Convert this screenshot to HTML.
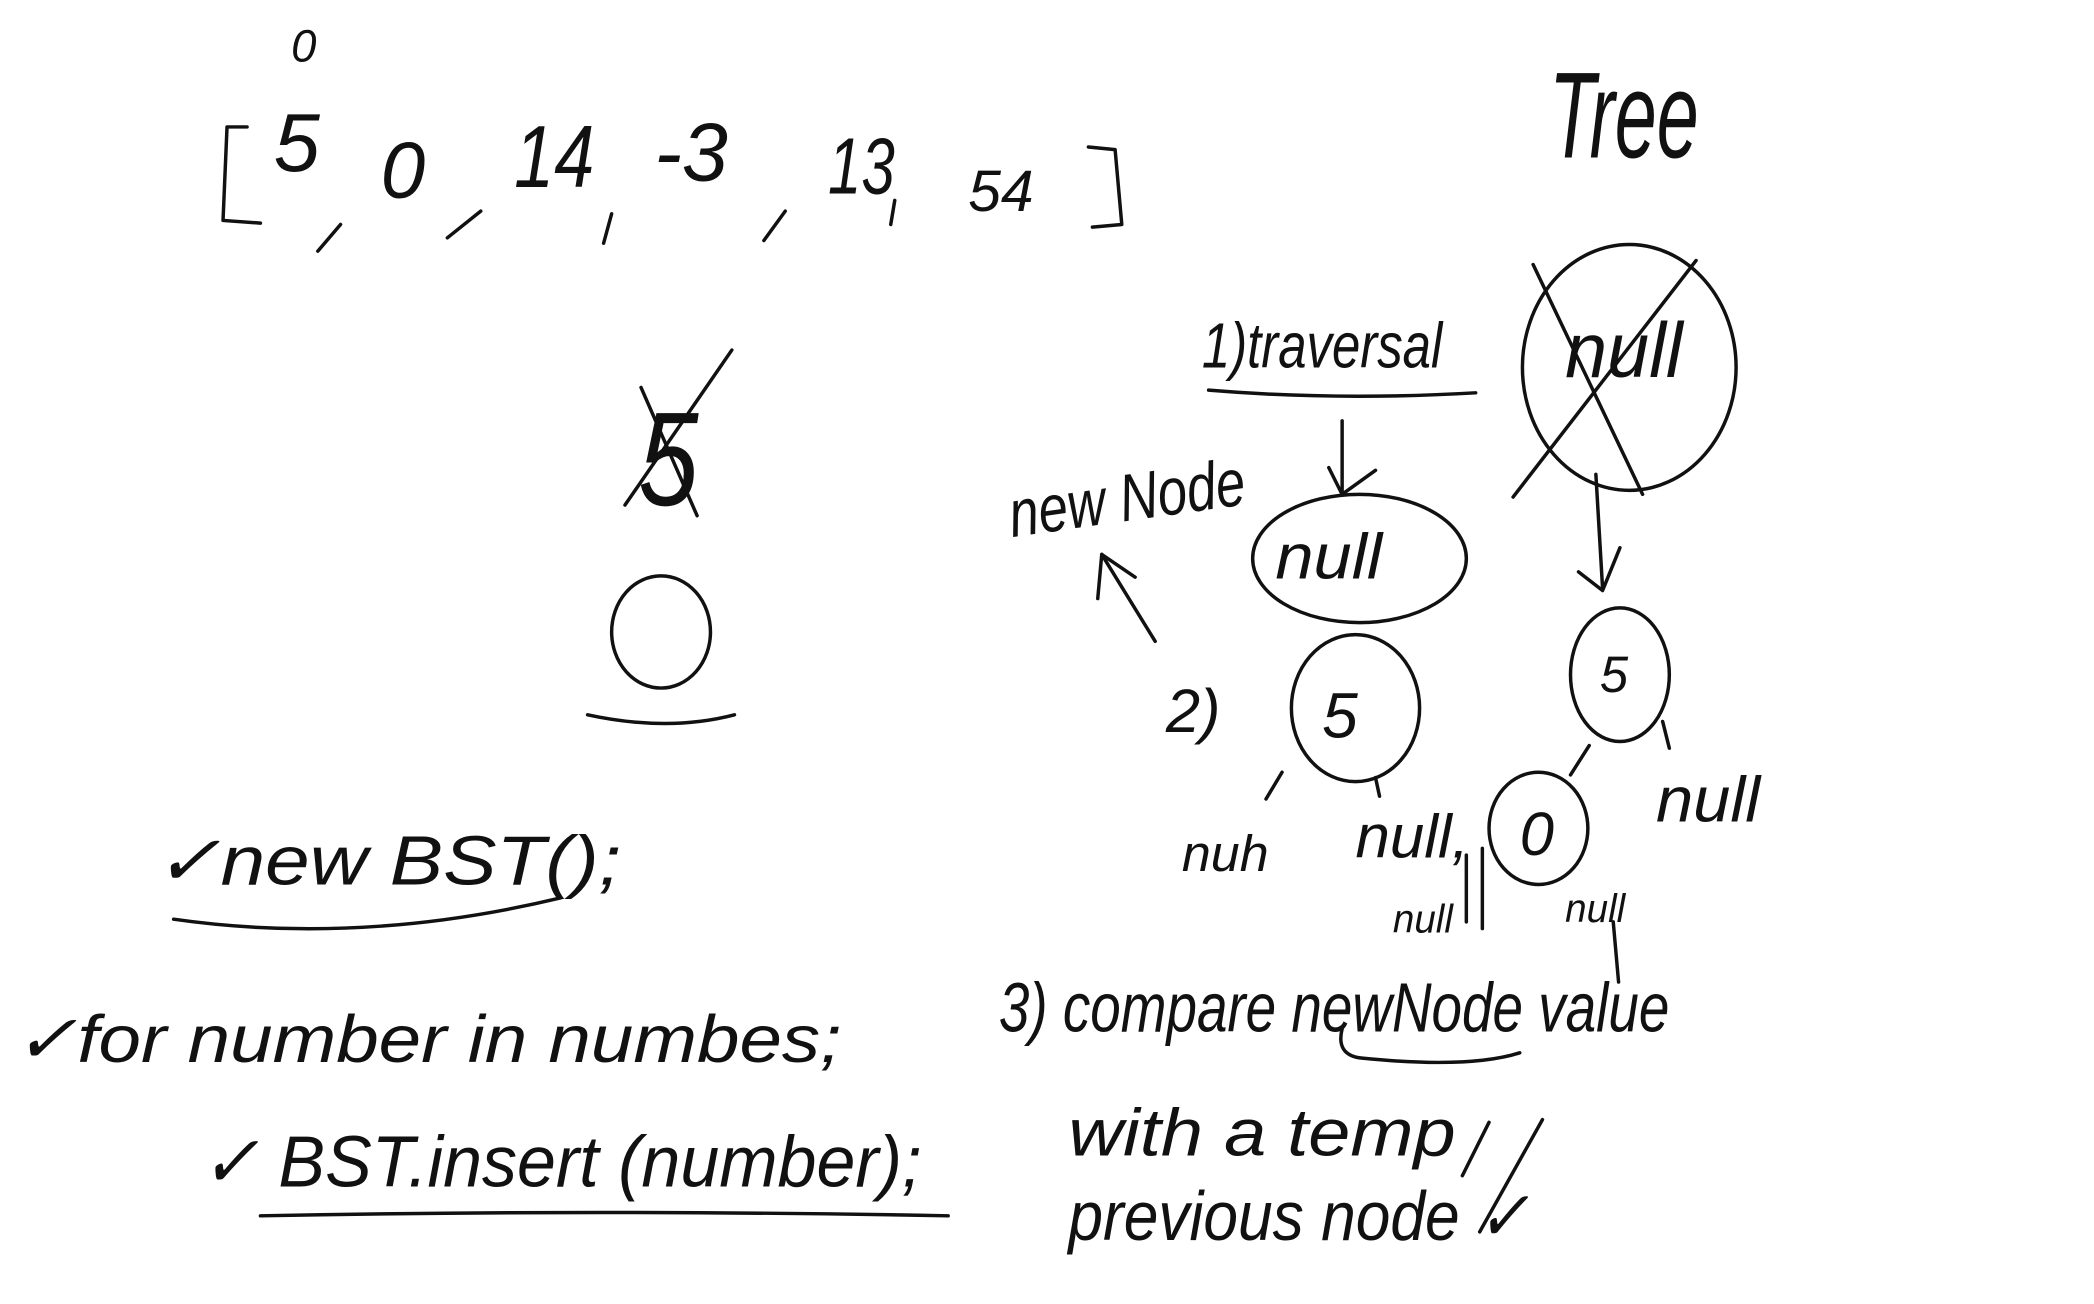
<!DOCTYPE html>
<html><head><meta charset="utf-8"><style>
html,body{margin:0;padding:0;background:#fff;}
svg{display:block}
text{font-family:"Liberation Sans",sans-serif;fill:#111;font-style:italic}
</style></head><body>
<svg width="2094" height="1304" viewBox="0 0 1568 976" preserveAspectRatio="none" xmlns="http://www.w3.org/2000/svg">
<g fill="none" stroke="#111" stroke-width="2.6" stroke-linecap="round" stroke-linejoin="round">
<path d="M185 95 L170 95 L167 165 L195 167"/>
<path d="M815 110 L835 112 L840 168 L818 170"/>
<path d="M255 168 L238 188"/><path d="M360 158 L335 178"/><path d="M458 160 L452 182"/><path d="M588 158 L572 180"/><path d="M670 150 L667 168"/>
<path d="M905 292 Q1000 300 1105 294"/>
<ellipse cx="1220" cy="275" rx="80" ry="92"/>
<path d="M1148 198 L1230 370"/><path d="M1270 195 L1133 372"/>
<path d="M548 262 L468 378"/><path d="M480 290 L522 386"/>
<ellipse cx="495" cy="473" rx="37" ry="42"/>
<path d="M440 535 Q500 548 550 535"/>
<path d="M865 480 L825 415"/><path d="M825 415 L822 448"/><path d="M825 415 L850 432"/>
<path d="M1005 315 L1005 370"/><path d="M995 350 L1005 370 L1030 352"/>
<ellipse cx="1018" cy="418" rx="80" ry="48"/>
<ellipse cx="1015" cy="530" rx="48" ry="55"/>
<path d="M960 578 L948 598"/><path d="M1030 582 L1033 596"/>
<path d="M1195 355 L1200 440"/><path d="M1182 428 L1200 442 L1213 410"/>
<ellipse cx="1213" cy="505" rx="37" ry="50"/>
<path d="M1190 558 L1176 580"/><path d="M1245 540 L1250 560"/>
<ellipse cx="1152" cy="620" rx="37" ry="42"/>
<path d="M1098 640 L1098 690"/><path d="M1110 635 L1110 695"/><path d="M1208 690 L1212 735"/>
<path d="M130 688 Q270 708 420 672"/>
<path d="M195 910 Q450 905 710 910"/>
<path d="M1005 770 Q1000 790 1020 792 Q1100 800 1138 788"/>
<path d="M1115 840 L1095 880"/><path d="M1155 838 L1108 922"/>
</g>
<g>
<text x="218" y="46" font-size="34">0</text>
<text x="205" y="128" font-size="62">5</text>
<text x="285" y="148" font-size="60">0</text>
<text x="385" y="140" font-size="66" textLength="60" lengthAdjust="spacingAndGlyphs">14</text>
<text x="490" y="135" font-size="62" textLength="55" lengthAdjust="spacingAndGlyphs">-3</text>
<text x="620" y="145" font-size="60" textLength="50" lengthAdjust="spacingAndGlyphs">13</text>
<text x="725" y="158" font-size="44">54</text>
<text x="478" y="378" font-size="100" textLength="45" lengthAdjust="spacingAndGlyphs">5</text>
<text x="1160" y="118" font-size="92" textLength="112" lengthAdjust="spacingAndGlyphs">Tree</text>
<text x="900" y="275" font-size="48" textLength="180" lengthAdjust="spacingAndGlyphs">1)traversal</text>
<text x="1172" y="282" font-size="58" textLength="88" lengthAdjust="spacingAndGlyphs">null</text>
<text x="758" y="402" font-size="50" transform="rotate(-8 758 402)" textLength="178" lengthAdjust="spacingAndGlyphs">new Node</text>
<text x="955" y="433" font-size="48" textLength="80" lengthAdjust="spacingAndGlyphs">null</text>
<text x="873" y="548" font-size="46">2)</text>
<text x="990" y="552" font-size="48">5</text>
<text x="1198" y="518" font-size="38">5</text>
<text x="1138" y="640" font-size="46">0</text>
<text x="885" y="652" font-size="38" textLength="65" lengthAdjust="spacingAndGlyphs">nuh</text>
<text x="1015" y="642" font-size="46" textLength="85" lengthAdjust="spacingAndGlyphs">null,</text>
<text x="1240" y="615" font-size="48" textLength="78" lengthAdjust="spacingAndGlyphs">null</text>
<text x="1043" y="698" font-size="30" textLength="45" lengthAdjust="spacingAndGlyphs">null</text>
<text x="1172" y="690" font-size="30" textLength="45" lengthAdjust="spacingAndGlyphs">null</text>
<text x="115" y="662" font-size="52" textLength="350" lengthAdjust="spacingAndGlyphs">✓new  BST();</text>
<text x="10" y="795" font-size="50" textLength="620" lengthAdjust="spacingAndGlyphs">✓for   number  in  numbes;</text>
<text x="150" y="888" font-size="54" textLength="540" lengthAdjust="spacingAndGlyphs">✓ BST.insert (number);</text>
<text x="748" y="772" font-size="52" textLength="502" lengthAdjust="spacingAndGlyphs">3) compare newNode value</text>
<text x="800" y="865" font-size="50" textLength="290" lengthAdjust="spacingAndGlyphs">with  a  temp</text>
<text x="800" y="928" font-size="52" textLength="345" lengthAdjust="spacingAndGlyphs">previous node ✓</text>
</g>
</svg>
</body></html>
